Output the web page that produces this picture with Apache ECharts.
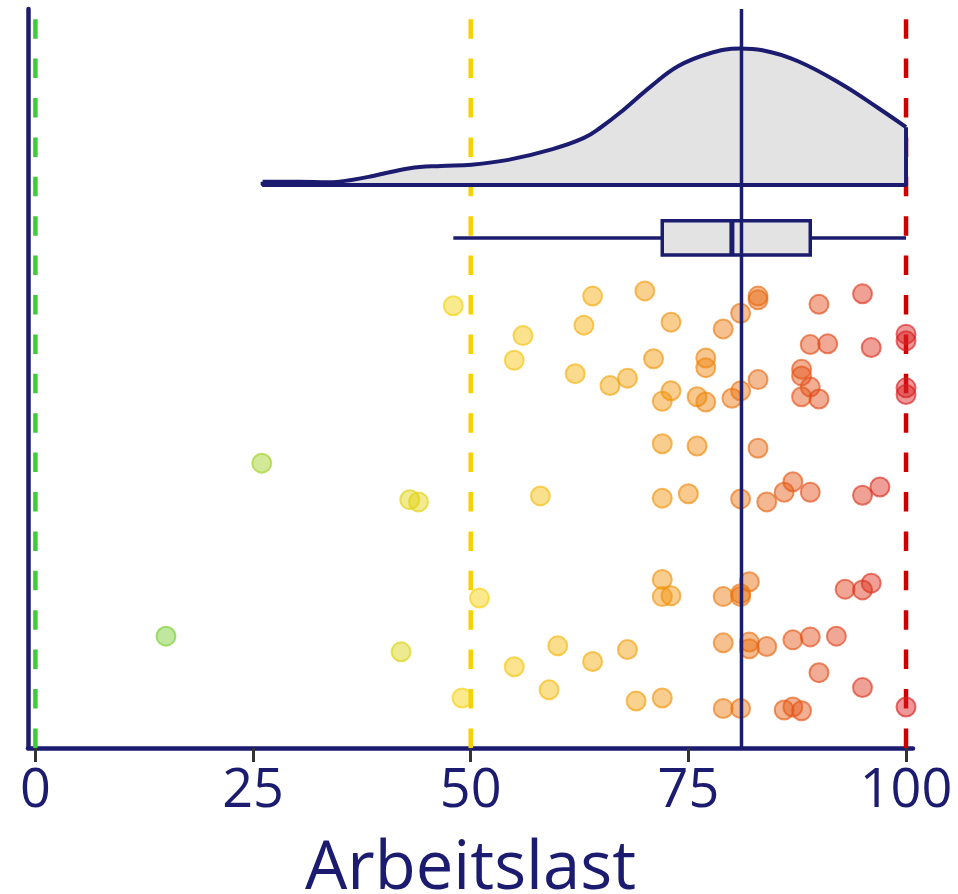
<!DOCTYPE html>
<html>
<head>
<meta charset="utf-8">
<script src="https://cdn.jsdelivr.net/npm/echarts@6/dist/echarts.min.js"></script>
<style>
  html, body { margin: 0; padding: 0; background: #fff; }
  #chart { width: 958px; height: 894px; }
</style>
</head>
<body>
<div id="chart"></div>
<script>
// Arbeitslast scores (x) and their vertical jitter (y)
const scores = [
  48, 64, 70, 56, 63, 55, 62, 66, 68, 71, 73, 72, 73, 72, 83, 83, 81, 79, 90, 95,
  89, 91, 96, 100, 100, 100, 100, 77, 77, 76, 77, 80, 81, 83, 88, 88, 89, 88, 90, 76,
  83, 26, 43, 44, 15, 42, 58, 72, 72, 72, 73, 51, 60, 55, 64, 68, 59, 49, 69, 72,
  75, 81, 84, 86, 87, 89, 95, 97, 82, 81, 81, 79, 93, 95, 96, 79, 82, 82, 84, 87,
  89, 92, 90, 95, 79, 81, 86, 87, 88, 100
];
const jitter = [
  59.0, 60.3, 61.0, 55.0, 56.4, 51.7, 49.9, 48.3, 49.3, 51.9, 56.8, 46.2, 47.6, 40.5, 60.3, 59.8, 58.0, 55.9, 59.2, 60.6,
  53.8, 53.9, 53.4, 55.2, 54.3, 48.0, 47.1, 52.0, 50.7, 46.8, 46.1, 46.6, 47.6, 49.1, 50.5, 49.6, 48.1, 46.8, 46.5, 40.2,
  39.9, 37.9, 33.0, 32.7, 14.7, 12.6, 33.5, 33.2, 22.3, 20.0, 20.1, 19.8, 13.4, 10.6, 11.3, 12.9, 7.5, 6.4, 6.0, 6.4,
  33.8, 33.1, 32.7, 34.0, 35.4, 34.0, 33.6, 34.7, 22.0, 20.4, 20.0, 20.0, 21.0, 20.9, 21.8, 13.8, 13.9, 13.0, 13.3, 14.2,
  14.6, 14.7, 9.8, 7.8, 5.0, 5.0, 4.8, 5.2, 4.7, 5.2
];

// density curve (relative height, peak = 1)
const densityX = [26.1, 30.2, 33.7, 36.3, 38.9, 43.0, 46.6, 50.1, 54.3, 59.4, 63.0, 65.0, 67.1, 70.7, 73.8, 77.3, 80.9, 83.5, 87.6, 92.7, 96.8, 100];
const densityY = [0.024, 0.024, 0.02, 0.037, 0.068, 0.123, 0.14, 0.149, 0.184, 0.263, 0.345, 0.425, 0.527, 0.723, 0.87, 0.962, 1.0, 0.988, 0.907, 0.735, 0.564, 0.424];

// box plot: min, q1, median, q3, max
const boxStats = [48, 72, 80, 89, 100];
const meanScore = 81.1;
const refLines = [0, 50, 100];
const tickValues = [0, 25, 50, 75, 100];

// layout
const navy = '#1b1b6f';
const grayFill = '#e3e3e3';
const yMin = -0.3, yMax = 98.8;
const densityBase = 75.2, densityScale = 18.3;
const boxY = 68.1, boxHalf = 2.3;
const refColors = ['#3ccc3c', '#f7d000', '#cc0000'];

const colorStops = [
  [0, [61, 204, 61]],
  [50, [248, 210, 7]],
  [75, [240, 140, 10]],
  [100, [216, 30, 33]]
];
function scoreColor(v, a) {
  let i = 0;
  while (i < colorStops.length - 2 && v > colorStops[i + 1][0]) i++;
  const [v0, c0] = colorStops[i];
  const [v1, c1] = colorStops[i + 1];
  const t = Math.min(1, Math.max(0, (v - v0) / (v1 - v0)));
  const c = c0.map((x, k) => Math.round(x + (c1[k] - x) * t));
  return `rgba(${c[0]},${c[1]},${c[2]},${a})`;
}

const chart = echarts.init(document.getElementById('chart'));

const series = [];

refLines.forEach(function (v, i) {
  series.push({
    type: 'line',
    data: [[v, yMax], [v, yMin]],
    symbol: 'none',
    z: 1,
    lineStyle: { color: refColors[i], width: 4.5, type: [19.5, 19.9], dashOffset: 29.2 },
    silent: true
  });
});

const densityData = densityX.map((x, i) => [x, densityBase + densityY[i] * densityScale]);
series.push({
  type: 'line',
  data: densityData,
  symbol: 'none',
  smooth: 0.4,
  z: 2,
  lineStyle: { color: navy, width: 4 },
  areaStyle: { color: grayFill, opacity: 1, origin: densityBase }
});
series.push({
  type: 'line',
  data: [
    densityData[0],
    [densityX[0], densityBase],
    [densityX[densityX.length - 1], densityBase],
    densityData[densityData.length - 1]
  ],
  symbol: 'none',
  z: 2,
  lineStyle: { color: navy, width: 4 }
});

series.push({
  type: 'custom',
  z: 3,
  data: [boxStats],
  renderItem: function (params, api) {
    const lo = api.coord([api.value(0), boxY]);
    const q1 = api.coord([api.value(1), boxY + boxHalf]);
    const med = api.coord([api.value(2), boxY]);
    const q3 = api.coord([api.value(3), boxY - boxHalf]);
    const hi = api.coord([api.value(4), boxY]);
    const stroke = { stroke: navy, lineWidth: 3.5, fill: null };
    return {
      type: 'group',
      children: [
        { type: 'line', shape: { x1: lo[0], y1: lo[1], x2: q1[0], y2: lo[1] }, style: stroke },
        { type: 'line', shape: { x1: q3[0], y1: hi[1], x2: hi[0], y2: hi[1] }, style: stroke },
        { type: 'rect', shape: { x: q1[0], y: q1[1], width: q3[0] - q1[0], height: q3[1] - q1[1] },
          style: { stroke: navy, lineWidth: 3.5, fill: grayFill } },
        { type: 'line', shape: { x1: med[0], y1: q1[1], x2: med[0], y2: q3[1] },
          style: { stroke: navy, lineWidth: 5 } }
      ]
    };
  }
});

series.push({
  type: 'scatter',
  z: 4,
  symbolSize: 19,
  data: scores.map(function (v, i) {
    return {
      value: [v, jitter[i]],
      itemStyle: { color: scoreColor(v, 0.58), borderColor: scoreColor(v, 0.8), borderWidth: 2 }
    };
  })
});

series.push({
  type: 'line',
  data: [[meanScore, yMax], [meanScore, yMin]],
  symbol: 'none',
  z: 5,
  lineStyle: { color: navy, width: 3.5 },
  silent: true
});

const option = {
  animation: false,
  backgroundColor: '#fff',
  grid: { left: 28, right: 45, top: 9, bottom: 146, containLabel: false, outerBoundsMode: 'none' },
  xAxis: {
    type: 'value',
    min: -0.85,
    max: 100.8,
    name: 'Arbeitslast',
    nameLocation: 'middle',
    nameGap: 88,
    nameTextStyle: { fontFamily: 'Open Sans', fontSize: 67, color: navy },
    axisLine: { show: true, onZero: false, lineStyle: { color: navy, width: 4.5 } },
    axisTick: { show: true, length: 14, customValues: tickValues, lineStyle: { color: '#333', width: 3 } },
    axisLabel: { customValues: tickValues, fontFamily: 'Open Sans', fontSize: 54, color: navy, margin: 17 },
    splitLine: { show: false }
  },
  yAxis: {
    type: 'value',
    min: yMin,
    max: yMax,
    axisLine: { show: true, onZero: false, lineStyle: { color: navy, width: 4.5 } },
    axisTick: { show: false },
    axisLabel: { show: false },
    splitLine: { show: false }
  },
  series: series
};

chart.setOption(option);
</script>
</body>
</html>
